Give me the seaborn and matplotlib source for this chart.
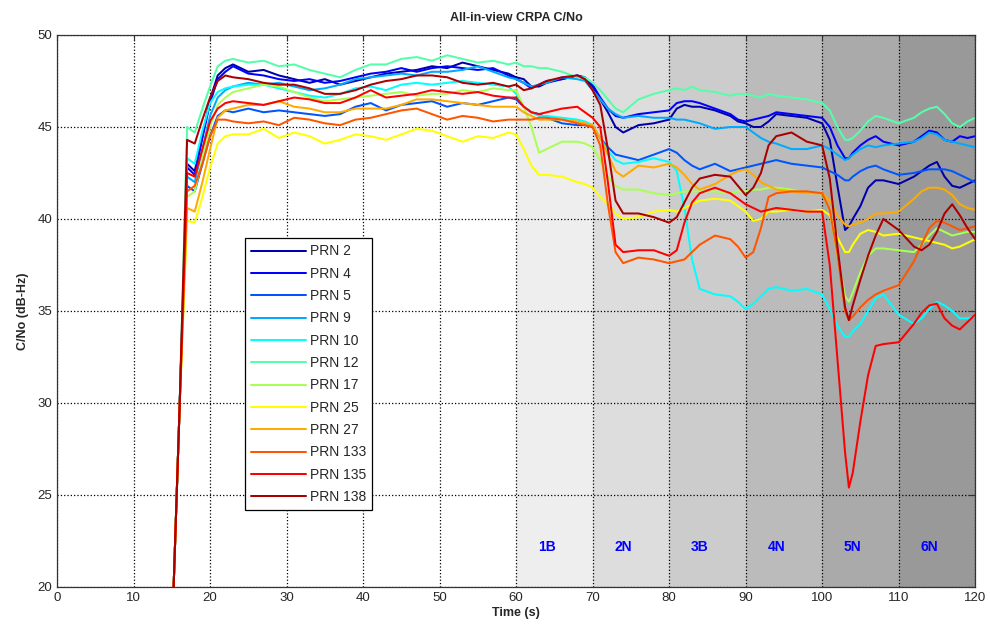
import numpy as np
import pandas as pd
import seaborn as sns
import matplotlib.pyplot as plt

# time grid (s) shared by all satellites
t = [15, 16, 17, 18, 19, 20, 21, 22, 23,
     25, 27, 29, 31, 33, 35, 37, 39, 41,
     43, 45, 47, 49, 51, 53, 55, 57, 59,
     60, 61, 62, 63, 64, 66, 68, 69, 70,
     71, 72, 73, 74, 76, 78, 80, 81, 82,
     83, 84, 86, 88, 89, 90, 91, 92, 93,
     94, 96, 98, 100, 101, 102, 103, 103.5, 104, 105,
     106, 107, 108, 110, 112, 113, 114, 115, 116,
     117, 118, 119, 120]

prn2 = [17, 29.5, 43.0, 42.6, 44.5, 46.5, 47.8, 48.2, 48.4,
        48.0, 48.1, 47.8, 47.6, 47.4, 47.6, 47.3, 47.5, 47.7,
        47.9, 48.0, 48.1, 48.3, 48.2, 48.5, 48.3, 48.1, 47.9,
        47.7, 47.6, 47.2, 47.2, 47.4, 47.6, 47.8, 47.6, 47.2,
        46.5, 45.8, 45.0, 44.7, 45.1, 45.2, 45.4, 46.0, 46.2,
        46.1, 46.1, 45.9, 45.6, 45.3, 45.2, 45.0, 45.0, 45.3,
        45.7, 45.6, 45.5, 45.2, 44.3, 41.8, 39.4, 39.6, 40.0, 40.7,
        41.7, 42.1, 42.1, 41.9, 42.3, 42.6, 42.9, 43.1, 42.3,
        41.8, 41.7, 41.9, 42.1]
prn4 = [17, 29.5, 42.8, 42.4, 44.4, 46.3, 47.6, 48.0, 48.3,
        47.9, 47.8, 47.6, 47.5, 47.6, 47.4, 47.5, 47.7, 47.9,
        48.0, 48.2, 48.0, 48.2, 48.3, 48.2, 48.1, 48.2, 47.8,
        47.6, 47.4, 47.1, 47.3, 47.5, 47.6, 47.8, 47.7, 47.3,
        46.6, 46.0, 45.6, 45.5, 45.7, 45.8, 45.9, 46.3, 46.4,
        46.4, 46.3, 46.0, 45.7, 45.4, 45.3, 45.4, 45.5, 45.6,
        45.8, 45.7, 45.6, 45.5, 45.0, 44.0, 43.3, 43.3, 43.6, 44.0,
        44.3, 44.5, 44.2, 44.0, 44.2, 44.5, 44.8, 44.7, 44.3,
        44.2, 44.5, 44.4, 44.5]
prn5 = [17, 29.5, 41.8, 41.5, 43.0, 44.5, 45.6, 45.9, 45.8,
        46.0, 45.8, 45.9, 45.8, 45.7, 45.6, 45.7, 46.1, 46.3,
        45.9, 46.2, 46.3, 46.4, 46.1, 46.3, 46.2, 46.4, 46.6,
        46.5, 46.1, 45.8, 45.7, 45.5, 45.2, 45.1, 45.1, 45.0,
        44.4, 43.9, 43.5, 43.4, 43.2, 43.5, 43.8, 43.6, 43.2,
        42.9, 42.7, 43.0, 42.6, 42.7, 42.8, 42.9, 43.0, 43.1,
        43.2, 43.0, 42.9, 42.8, 42.6, 42.4, 42.1, 42.1, 42.3, 42.6,
        42.8, 42.9, 42.7, 42.4, 42.5, 42.6, 42.7, 42.7, 42.7,
        42.6, 42.4, 42.2, 42.0]
prn9 = [17, 29.5, 42.3, 42.0, 43.8, 45.6, 46.6, 47.0, 47.2,
        47.4, 47.3, 47.4, 47.2, 47.0, 47.1, 47.3, 47.6, 47.7,
        47.8, 47.9, 47.8, 48.0, 48.0, 48.1, 48.3, 48.0, 47.7,
        47.6, 47.4, 47.2, 47.3, 47.4, 47.7, 47.6, 47.5, 47.0,
        46.5, 46.0, 45.7, 45.5, 45.6, 45.5, 45.5, 45.4, 45.4,
        45.3, 45.2, 44.9, 45.0, 45.0, 45.0, 44.7, 44.4, 44.2,
        44.1, 43.8, 43.8, 44.0, 43.8, 43.5, 43.2, 43.3, 43.5, 43.8,
        44.0, 43.9, 44.0, 44.1, 44.2, 44.4, 44.7, 44.6, 44.3,
        44.2, 44.1, 44.0, 43.9]
prn10 = [17, 29.5, 43.3, 43.0, 44.8, 46.3, 46.9, 47.1, 47.2,
         47.3, 47.3, 47.1, 46.9, 46.7, 46.6, 46.8, 47.1, 47.2,
         47.0, 47.3, 47.4, 47.3, 47.4, 47.5, 47.4, 47.3, 47.2,
         46.8, 46.1, 45.8, 45.6, 45.6, 45.5, 45.4, 45.3, 45.1,
         44.4, 43.7, 43.2, 43.0, 43.1, 43.3, 43.1, 42.6, 40.6,
         37.8, 36.2, 35.9, 35.8, 35.5, 35.1, 35.4, 35.8, 36.2,
         36.3, 36.1, 36.2, 35.9, 35.1, 34.2, 33.6, 33.6, 33.9, 34.3,
         35.0, 35.7, 35.9, 34.8, 34.3, 34.6, 35.1, 35.5, 35.3,
         35.0, 34.6, 34.6, 34.7]
prn12 = [17, 29.5, 45.0, 44.7, 46.0, 47.2, 48.3, 48.6, 48.7,
         48.5, 48.6, 48.3, 48.4, 48.1, 47.9, 47.7, 48.1, 48.4,
         48.4, 48.7, 48.8, 48.6, 48.9, 48.7, 48.5, 48.6, 48.4,
         48.5, 48.3, 48.3, 48.2, 48.2, 48.0, 47.7, 47.7, 47.4,
         47.0, 46.5, 46.0, 45.8, 46.5, 46.8, 47.0, 47.1, 47.0,
         47.2, 47.0, 46.9, 46.7, 46.8, 46.8, 46.7, 46.6, 46.8,
         46.7, 46.6, 46.5, 46.3, 45.9, 45.0, 44.3, 44.3, 44.4, 44.8,
         45.3, 45.6, 45.5, 45.2, 45.5, 45.8, 46.0, 46.1, 45.7,
         45.2, 45.0, 45.3, 45.5]
prn17 = [17, 29.5, 41.2, 41.5, 43.3, 45.0, 46.2, 46.6, 46.9,
         47.1, 47.3, 47.2, 46.9, 46.6, 46.4, 46.5, 46.6, 46.7,
         46.8, 46.9, 46.7, 46.8, 46.8, 47.0, 46.9, 47.1, 47.0,
         47.0, 46.1, 45.0, 43.6, 43.8, 44.2, 44.2, 44.1, 43.9,
         43.2, 42.3, 41.8, 41.6, 41.6, 41.4, 41.3, 41.4, 41.5,
         41.5, 41.5, 41.5, 41.4, 41.5, 41.5, 41.6, 41.6, 41.7,
         41.7, 41.6, 41.4, 41.4, 40.5, 38.0, 35.8, 35.5, 36.0, 37.1,
         38.0, 38.4, 38.4, 38.3, 38.2, 38.6, 39.1, 39.5, 39.3,
         39.1, 39.2, 39.3, 39.3]
prn25 = [17, 29.5, 39.9, 39.8, 41.2, 42.8, 44.1, 44.5, 44.6,
         44.6, 44.9, 44.4, 44.7, 44.5, 44.1, 44.3, 44.6, 44.5,
         44.3, 44.6, 44.9, 44.8, 44.5, 44.2, 44.5, 44.4, 44.7,
         44.6, 43.8, 42.9, 42.4, 42.4, 42.3, 42.0, 41.9, 41.7,
         41.2, 40.8, 40.3, 40.0, 40.1, 40.4, 40.5, 40.4, 40.6,
         40.8, 41.0, 41.1, 41.0, 40.7, 40.4, 39.9, 40.0, 40.4,
         40.4, 40.5, 40.4, 40.5, 40.2, 39.0, 38.2, 38.2, 38.6, 39.2,
         39.4, 39.3, 39.1, 39.2, 39.0, 38.9, 38.8, 38.7, 38.6,
         38.4, 38.5, 38.7, 38.9]
prn27 = [17, 29.5, 40.6, 40.4, 42.0, 43.8, 45.5, 45.9, 46.0,
         46.2, 46.2, 46.4, 46.1, 46.0, 45.8, 45.8, 46.0, 46.0,
         46.0, 46.2, 46.5, 46.5, 46.4, 46.3, 46.2, 46.1, 46.1,
         46.1, 45.8, 45.6, 45.4, 45.4, 45.4, 45.3, 45.2, 45.1,
         44.4, 43.5, 42.6, 42.3, 42.9, 42.8, 43.0, 42.8, 42.4,
         41.9, 41.6, 41.9, 42.4, 42.6, 42.7, 42.4, 42.0, 41.8,
         41.6, 41.5, 41.4, 41.4, 41.0, 40.2, 39.7, 39.6, 39.7, 39.8,
         40.0, 40.3, 40.3, 40.4, 41.1, 41.5, 41.7, 41.7, 41.6,
         41.3, 40.8, 40.6, 40.5]
prn133 = [17, 29.5, 41.5, 41.8, 43.0, 44.5, 45.4, 45.4, 45.3,
          45.2, 45.3, 45.1, 45.5, 45.4, 45.2, 45.1, 45.4, 45.5,
          45.7, 45.9, 46.0, 45.7, 45.4, 45.6, 45.5, 45.3, 45.4,
          45.4, 45.4, 45.4, 45.5, 45.5, 45.4, 45.2, 45.1, 45.0,
          44.0, 40.8, 38.2, 37.6, 37.9, 37.8, 37.6, 37.7, 37.8,
          38.2, 38.6, 39.1, 38.9, 38.5, 37.9, 38.2, 39.5, 41.2,
          41.4, 41.5, 41.5, 41.4, 40.5, 38.1, 35.0, 34.5, 34.7, 35.2,
          35.6, 35.9, 36.1, 36.4, 37.7, 38.6, 39.5, 39.9, 39.8,
          39.6, 39.4, 39.5, 39.6]
prn135 = [17, 29.5, 42.5, 42.3, 43.8, 45.3, 46.0, 46.3, 46.4,
          46.3, 46.2, 46.4, 46.6, 46.5, 46.3, 46.3, 46.6, 47.0,
          46.6, 46.7, 46.8, 47.0, 46.9, 46.8, 46.9, 46.7, 46.6,
          46.6, 46.1, 45.8, 45.7, 45.8, 46.0, 46.1, 45.8, 45.5,
          45.0, 42.0, 38.6, 38.2, 38.3, 38.3, 38.0, 38.3, 39.8,
          40.9, 41.4, 41.7, 41.4, 41.1, 40.8, 40.6, 40.4, 40.5,
          40.6, 40.5, 40.4, 40.4, 37.5, 32.4, 27.3, 25.4, 26.2, 29.0,
          31.5, 33.1, 33.2, 33.3, 34.3, 34.9, 35.3, 35.4, 34.6,
          34.2, 34.0, 34.4, 34.8]
prn138 = [17, 29.5, 44.3, 44.1, 45.4, 46.6, 47.5, 47.8, 47.7,
          47.6, 47.4, 47.3, 47.3, 47.1, 46.8, 46.8, 47.0, 47.3,
          47.5, 47.6, 47.8, 47.8, 47.7, 47.4, 47.3, 47.4, 47.2,
          47.3, 47.0, 47.1, 47.3, 47.5, 47.7, 47.8, 47.6, 47.0,
          46.2, 43.8, 41.0, 40.3, 40.3, 40.1, 39.8, 40.1, 40.9,
          41.7, 42.2, 42.4, 42.3, 41.8, 41.3, 41.7, 42.5, 44.0,
          44.5, 44.7, 44.2, 44.0, 42.2, 38.5, 35.2, 34.5, 35.3, 36.7,
          38.0, 39.1, 40.0, 39.4, 38.5, 38.3, 38.6, 39.3, 40.3,
          40.8, 40.2, 39.5, 38.9]

labels = ['PRN 2', 'PRN 4', 'PRN 5', 'PRN 9', 'PRN 10', 'PRN 12',
          'PRN 17', 'PRN 25', 'PRN 27', 'PRN 133', 'PRN 135', 'PRN 138']
series = [prn2, prn4, prn5, prn9, prn10, prn12,
          prn17, prn25, prn27, prn133, prn135, prn138]

# MATLAB jet(12)
colors = [(0, 0, 2/3), (0, 0, 1), (0, 1/3, 1), (0, 2/3, 1), (0, 1, 1),
          (1/3, 1, 2/3), (2/3, 1, 1/3), (1, 1, 0), (1, 2/3, 0),
          (1, 1/3, 0), (1, 0, 0), (2/3, 0, 0)]

# test segments
seg_edges = [60, 70, 80, 90, 100, 110, 120]
seg_names = ['1B', '2N', '3B', '4N', '5N', '6N']
seg_gray = ['#eeeeee', '#dddddd', '#cccccc', '#bbbbbb', '#aaaaaa', '#999999']

df = pd.DataFrame({
    'Time': np.tile(t, len(labels)),
    'CNo': np.concatenate(series),
    'PRN': np.repeat(labels, len(t)),
})

sns.set_style('white')
plt.rcParams['font.family'] = ['Liberation Sans', 'DejaVu Sans']
plt.rcParams['xtick.direction'] = 'in'
plt.rcParams['ytick.direction'] = 'in'

fig = plt.figure(figsize=(9.9, 6.28), dpi=100)
ax = fig.add_axes([0.0576, 0.0653, 0.9274, 0.8790])

for i in range(len(seg_names)):
    ax.axvspan(seg_edges[i], seg_edges[i + 1], color=seg_gray[i], lw=0, zorder=0.5)
    ax.text(seg_edges[i] + 4, 22.2, seg_names[i],
            color='blue', fontweight='bold', fontsize=10, ha='center', va='center')

sns.lineplot(data=df, x='Time', y='CNo', hue='PRN', hue_order=labels,
             palette=colors, linewidth=1.45, estimator=None, sort=False, ax=ax)

ax.set_xlim(0, 120)
ax.set_ylim(20, 50)
ax.set_xticks(range(0, 121, 10))
ax.set_yticks(range(20, 51, 5))
ax.grid(True, linestyle=':', color='black', linewidth=0.9)
ax.tick_params(labelsize=9.5, length=4, color='#333333', top=True, right=True)
for s in ax.spines.values():
    s.set_color('#333333')
    s.set_linewidth(0.9)

ax.set_title('All-in-view CRPA C/No', fontsize=9, fontweight='bold', pad=10)
ax.set_xlabel('Time (s)', fontsize=9, fontweight='bold', labelpad=2)
ax.set_ylabel('C/No (dB-Hz)', fontsize=9, fontweight='bold', labelpad=6)

leg = ax.legend(loc='upper left', bbox_to_anchor=(0.205, 0.632), fontsize=10,
                frameon=True, fancybox=False, edgecolor='black', framealpha=1,
                handlelength=3.9, labelspacing=0.6, borderpad=0.45,
                handletextpad=0.3, borderaxespad=0)
leg.get_frame().set_linewidth(0.9)

fig.savefig('out.png', dpi=100)
